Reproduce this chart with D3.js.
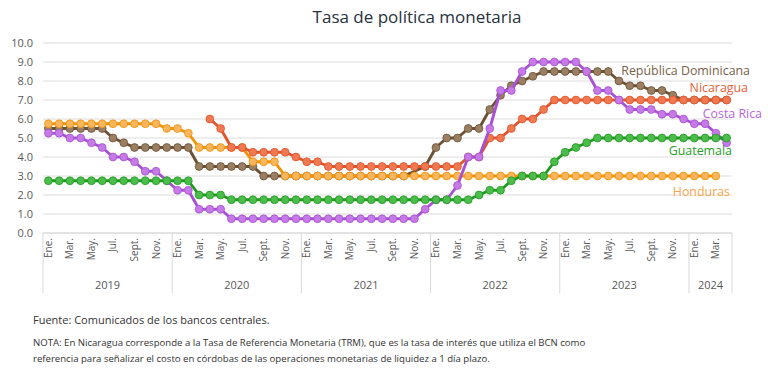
<!DOCTYPE html>
<html><head><meta charset="utf-8">
<script src="https://cdn.jsdelivr.net/npm/d3@7"></script>
<style>
html,body{margin:0;padding:0;background:#fff;}
svg{display:block;font-family:"Open Sans","Noto Sans",sans-serif;}
</style></head>
<body><svg id="chart" width="768" height="390"></svg>
<script>
// ---- Data (monthly, Ene. 2019 – Abr. 2024) ----
const years = ["2019","2020","2021","2022","2023","2024"];
const monthNames = ["Ene.","Feb.","Mar.","Abr.","May.","Jun.","Jul.","Ago.","Sept.","Oct.","Nov.","Dic."];
const monthsShown = ["Ene.","Mar.","May.","Jul.","Sept.","Nov."];
const yTicks = [0,1,2,3,4,5,6,7,8,9,10];

const republicaDominicana = [
  5.5,5.5,5.5,5.5,5.5,5.5,5.0,4.75,4.5,4.5,4.5,4.5,
  4.5,4.5,3.5,3.5,3.5,3.5,3.5,3.5,3.0,3.0,3.0,3.0,
  3.0,3.0,3.0,3.0,3.0,3.0,3.0,3.0,3.0,3.0,null,3.5,
  4.5,5.0,5.0,5.5,5.5,6.5,7.25,7.75,8.0,8.25,8.5,8.5,
  8.5,8.5,8.5,8.5,8.5,8.0,7.75,7.75,7.5,7.5,7.25,7.0,
  7.0,7.0,7.0,7.0];
const honduras = [
  5.75,5.75,5.75,5.75,5.75,5.75,5.75,5.75,5.75,5.75,5.75,5.5,
  5.5,5.25,4.5,4.5,4.5,4.5,4.5,3.75,3.75,3.75,3.0,3.0,
  3.0,3.0,3.0,3.0,3.0,3.0,3.0,3.0,3.0,3.0,3.0,3.0,
  3.0,3.0,3.0,3.0,3.0,3.0,3.0,3.0,3.0,3.0,3.0,3.0,
  3.0,3.0,3.0,3.0,3.0,3.0,3.0,3.0,3.0,3.0,3.0,3.0,
  3.0,3.0,3.0,null];
const nicaragua = [
  null,null,null,null,null,null,null,null,null,null,null,null,
  null,null,null,6.0,5.5,4.5,4.5,4.25,4.25,4.25,4.25,4.0,
  3.75,3.75,3.5,3.5,3.5,3.5,3.5,3.5,3.5,3.5,3.5,3.5,
  3.5,3.5,3.5,4.0,4.0,5.0,5.0,5.5,6.0,6.0,6.5,7.0,
  7.0,7.0,7.0,7.0,7.0,7.0,7.0,7.0,7.0,7.0,7.0,7.0,
  7.0,7.0,7.0,7.0];
const costaRica = [
  5.25,5.25,5.0,5.0,4.75,4.5,4.0,4.0,3.75,3.25,3.25,2.75,
  2.25,2.25,1.25,1.25,1.25,0.75,0.75,0.75,0.75,0.75,0.75,0.75,
  0.75,0.75,0.75,0.75,0.75,0.75,0.75,0.75,0.75,0.75,0.75,1.25,
  1.75,1.75,2.5,4.0,4.0,5.5,7.5,7.5,8.5,9.0,9.0,9.0,
  9.0,9.0,8.5,7.5,7.5,7.0,6.5,6.5,6.5,6.25,6.25,6.0,
  5.75,5.75,5.25,4.75];
const guatemala = [
  2.75,2.75,2.75,2.75,2.75,2.75,2.75,2.75,2.75,2.75,2.75,2.75,
  2.75,2.75,2.0,2.0,2.0,1.75,1.75,1.75,1.75,1.75,1.75,1.75,
  1.75,1.75,1.75,1.75,1.75,1.75,1.75,1.75,1.75,1.75,1.75,1.75,
  1.75,1.75,1.75,1.75,2.0,2.25,2.25,2.75,3.0,3.0,3.0,3.75,
  4.25,4.5,4.75,5.0,5.0,5.0,5.0,5.0,5.0,5.0,5.0,5.0,
  5.0,5.0,5.0,5.0];

const seriesNames = ["República Dominicana","Honduras","Nicaragua","Costa Rica","Guatemala"];
const seriesValues = [republicaDominicana, honduras, nicaragua, costaRica, guatemala];
const lineColors = ["#6b5033","#f39200","#e0532b","#a850d3","#1f9a1f"];
const markerColors = ["#9a7f62","#f8b560","#ef7a52","#c57ae6","#4cbc4c"];
const labelColors = ["#7a6149","#f5a54c","#e8603c","#b764dc","#27a027"];

// ---- Layout ----
const svg = d3.select("#chart");
const plotL = 43, plotR = 732, plotT = 43, plotB = 233;
const nMonths = republicaDominicana.length;
const x = d3.scaleBand().domain(d3.range(nMonths)).range([plotL, plotR]).padding(0);
const y = d3.scaleLinear().domain([0, 10]).range([plotB, plotT]);
const cx = i => x(i) + x.bandwidth() / 2;

// Title
svg.append("text").attr("x", 417).attr("y", 23).attr("text-anchor", "middle")
  .attr("font-size", 17).attr("fill", "#26323c").text("Tasa de política monetaria");

// Gridlines + y labels
svg.append("g").selectAll("line").data(yTicks).join("line")
  .attr("x1", plotL).attr("x2", plotR).attr("y1", d => y(d)).attr("y2", d => y(d))
  .attr("stroke", "#dcdcdc").attr("stroke-width", 1);
svg.append("g").selectAll("text").data(yTicks).join("text")
  .attr("x", 33).attr("y", d => y(d) + 4).attr("text-anchor", "end")
  .attr("font-size", 11).attr("fill", "#595959").text(d => d.toFixed(1));

// X axis: separators and labels
const yearStarts = years.map((yr, k) => k * 12);
const sepXs = yearStarts.map(i => x(i)).concat([plotR]);
svg.append("g").selectAll("line").data(sepXs).join("line")
  .attr("x1", d => d).attr("x2", d => d).attr("y1", plotB).attr("y2", 293)
  .attr("stroke", "#d9d9d9").attr("stroke-width", 1);
svg.append("line").attr("x1", plotL).attr("x2", plotR).attr("y1", plotB).attr("y2", plotB)
  .attr("stroke", "#d9d9d9");

const monthIdx = d3.range(nMonths).filter(i => monthsShown.includes(monthNames[i % 12]));
svg.append("g").selectAll("text").data(monthIdx).join("text")
  .attr("transform", i => `translate(${cx(i) + 3.5},238) rotate(-90)`)
  .attr("text-anchor", "end").attr("font-size", 10).attr("fill", "#595959")
  .text(i => monthNames[i % 12]);

svg.append("g").selectAll("text").data(years).join("text")
  .attr("x", (d, k) => {
    const a = x(k * 12);
    const bEnd = Math.min((k + 1) * 12, nMonths);
    const b = bEnd >= nMonths ? plotR : x(bEnd);
    return (a + b) / 2;
  })
  .attr("y", 289).attr("text-anchor", "middle").attr("font-size", 11).attr("fill", "#595959")
  .text(d => d);

// Series
const line = d3.line().x(d => cx(d.i)).y(d => y(d.v));
seriesValues.forEach((vals, s) => {
  const pts = vals.map((v, i) => ({i, v})).filter(d => d.v != null);
  const g = svg.append("g");
  g.append("path").datum(pts).attr("d", line).attr("fill", "none")
    .attr("stroke", lineColors[s]).attr("stroke-width", 2.9).attr("stroke-linejoin", "round");
  g.selectAll("circle").data(pts).join("circle")
    .attr("cx", d => cx(d.i)).attr("cy", d => y(d.v)).attr("r", 3.9)
    .attr("fill", markerColors[s]).attr("stroke", lineColors[s]).attr("stroke-width", 0.8);
});

// Series labels
const labelPos = [
  {name: "República Dominicana", x: 750, y: 75},
  {name: "Nicaragua", x: 748, y: 92},
  {name: "Costa Rica", x: 762, y: 118},
  {name: "Guatemala", x: 732, y: 155},
  {name: "Honduras", x: 730, y: 196}
];
labelPos.forEach(p => {
  const s = seriesNames.indexOf(p.name);
  svg.append("text").attr("x", p.x).attr("y", p.y).attr("text-anchor", "end")
    .attr("font-size", 12.4).attr("fill", labelColors[s]).text(p.name);
});

// Footnotes
svg.append("text").attr("x", 33).attr("y", 324).attr("font-size", 11).attr("fill", "#333")
  .text("Fuente: Comunicados de los bancos centrales.");
svg.append("text").attr("x", 33).attr("y", 346).attr("font-size", 9.6).attr("fill", "#333")
  .text("NOTA: En Nicaragua corresponde a la Tasa de Referencia Monetaria (TRM), que es la tasa de interés que utiliza el BCN como");
svg.append("text").attr("x", 33).attr("y", 362).attr("font-size", 9.6).attr("fill", "#333")
  .text("referencia para señalizar el costo en córdobas de las operaciones monetarias de liquidez a 1 día plazo.");
</script>
</body></html>
